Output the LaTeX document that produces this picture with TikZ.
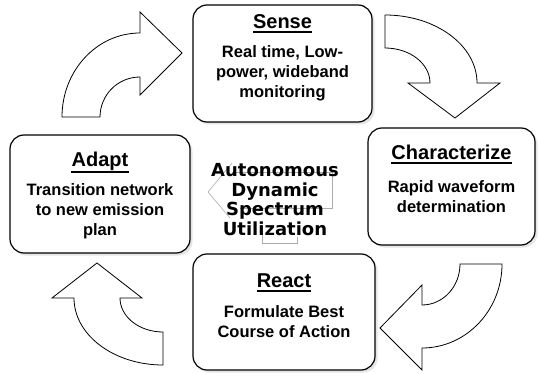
\documentclass[tikz,border=0pt]{standalone}
\usepackage{fontspec}
\setmainfont{Liberation Sans}
\newfontfamily\hubfont{DejaVu Sans}
\usepackage{tikz}
\usetikzlibrary{positioning,shadows}

\begin{document}
\begin{tikzpicture}[x=1pt,y=1pt,
    stage/.style={draw,line width=1.2pt,rounded corners=14pt,fill=white,
      drop shadow={shadow xshift=2.5pt,shadow yshift=-2.5pt,fill=gray!40}},
    heading/.style={inner sep=0pt,font=\fontsize{20}{24}\selectfont\bfseries},
    detail/.style={inner sep=0pt,align=center,font=\fontsize{16.5}{20}\selectfont\bfseries},
    rule/.style={line width=1.8pt},
    turn/.style={draw,line width=0.8pt,fill=white,line join=miter},
    ghost/.style={draw=gray!65,line width=0.6pt},
    hub/.style={inner sep=0pt,align=center,font=\hubfont\bfseries\fontsize{18}{19.5}\selectfont}]

      \useasboundingbox (0,0) rectangle (540,-374);

      \draw [turn] (62,-117) arc [start angle=180,end angle=90,x radius=78,y radius=84] -- (140,-12) -- (182,-53) -- (140,-95) -- (140,-77) arc [start angle=90,end angle=180,radius=40] -- cycle;
      \draw [turn] (385,-15) arc [start angle=90,end angle=0,x radius=92,y radius=68] -- (500,-83) -- (455,-118) -- (408,-83) -- (430,-83) arc [start angle=0,end angle=90,x radius=45,y radius=35] -- cycle;
      \draw [turn] (502,-264) arc [start angle=0,end angle=-90,x radius=80,y radius=84] -- (422,-370) -- (380,-328) -- (422,-285) -- (422,-305) arc [start angle=-90,end angle=0,x radius=38,y radius=41] -- cycle;
      \draw [turn] (163,-365) arc [start angle=270,end angle=180,x radius=89,y radius=67] -- (52,-298) -- (97,-263) -- (142,-298) -- (120,-298) arc [start angle=180,end angle=270,x radius=43,y radius=34] -- cycle;

      \node [stage,minimum width=179pt,minimum height=117pt] (sense) at (282.5,-63.5) {};
      \node [stage,minimum width=167pt,minimum height=117pt] (char) at (451.5,-186.5) {};
      \node [stage,minimum width=182pt,minimum height=116pt] (react) at (284,-312) {};
      \node [stage,minimum width=180pt,minimum height=118pt] (adapt) at (100,-194) {};

      \node [heading,anchor=base] (senseT) at ([yshift=-24pt]sense.north) {Sense};
      \node [detail,below=17pt of senseT.base] (senseB) {Real time, Low-\\power, wideband\\monitoring};
      \draw [rule] ([yshift=-3.5pt]senseT.base west) -- ([yshift=-3.5pt]senseT.base east);

      \node [heading,anchor=base] (charT) at ([yshift=-32pt]char.north) {Characterize};
      \node [detail,below=21pt of charT.base] (charB) {Rapid waveform\\determination};
      \draw [rule] ([yshift=-3.5pt]charT.base west) -- ([yshift=-3.5pt]charT.base east);

      \node [heading,anchor=base] (reactT) at ([yshift=-34pt]react.north) {React};
      \node [detail,below=18pt of reactT.base] (reactB) {Formulate Best\\Course of Action};
      \draw [rule] ([yshift=-3.5pt]reactT.base west) -- ([yshift=-3.5pt]reactT.base east);

      \node [heading,anchor=base] (adaptT) at ([yshift=-32pt]adapt.north) {Adapt};
      \node [detail,below=17pt of adaptT.base] (adaptB) {Transition network\\to new emission\\plan};
      \draw [rule] ([yshift=-5.5pt]adaptT.base west) -- ([yshift=-5.5pt]adaptT.base east);

      \draw [ghost] (232,-163) -- (208,-192) -- (230,-218);
      \draw [ghost] (232,-172) -- (332,-172) -- (332,-208) -- (240,-208);
      \draw [ghost] (262,-227) -- (262,-243) -- (297,-243) -- (297,-237);

      \node [hub] (hub) at (275,-199.5) {Autonomous\\Dynamic\\Spectrum\\Utilization};
    \end{tikzpicture}
\end{document}
